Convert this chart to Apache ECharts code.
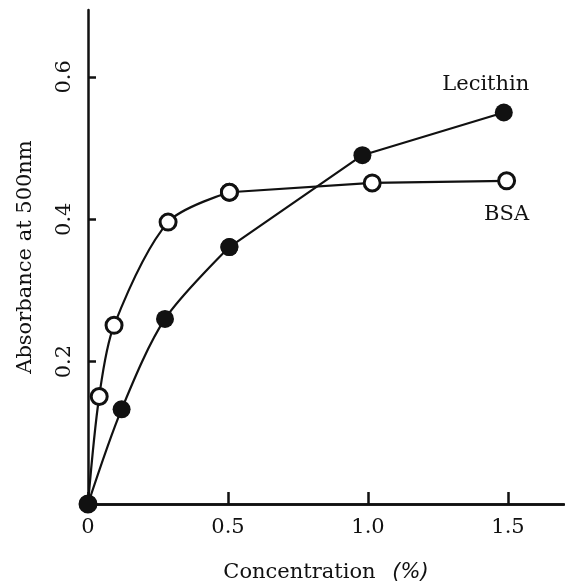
<!DOCTYPE html>
<html>
<head>
<meta charset="utf-8">
<script src="https://cdn.jsdelivr.net/npm/echarts@6/dist/echarts.min.js"></script>
<style>
  html, body { margin: 0; padding: 0; background: #fff; }
  #chart-1 { width: 565px; height: 588px; }
</style>
</head>
<body>
<div id="chart-1"></div>
<script>
/**Data**/
var lecithinX = [0, 0.12, 0.275, 0.505, 0.98, 1.485];
var lecithinY = [0, 0.133, 0.26, 0.361, 0.49, 0.55];
var bsaX = [0, 0.04, 0.093, 0.286, 0.505, 1.015, 1.495];
var bsaY = [0, 0.151, 0.251, 0.396, 0.438, 0.451, 0.454];
var xTicks = ["0", "0.5", "1.0", "1.5"];
var yTicks = ["0.2", "0.4", "0.6"];

var FONT = "DejaVu Serif";

// builds [x, y] items; the last point of the full series gets the name label
function pairs(xs, ys, from, to, labelOpt) {
  var out = [];
  for (var i = from; i < to; i++) {
    var item = { value: [xs[i], ys[i]] };
    if (labelOpt && i === xs.length - 1) item.label = labelOpt;
    out.push(item);
  }
  return out;
}

var bsaLabel = {
  show: true,
  position: "bottom",
  distance: 14,
  formatter: "BSA",
  fontFamily: FONT,
  fontSize: 21,
  color: "#111",
};
var lecithinLabel = {
  show: true,
  position: "top",
  distance: 8,
  offset: [-18, 0],
  formatter: "Lecithin",
  fontFamily: FONT,
  fontSize: 21,
  color: "#111",
};

var openStyle = { color: "#fff", borderColor: "#111", borderWidth: 3 };
var filledStyle = { color: "#111", borderColor: "#111", borderWidth: 0 };
var lineSt = { color: "#111", width: 2.2 };

/**Chart 1**/
var dom = document.getElementById("chart-1");
var Chart1 = echarts.init(dom, null, {
  renderer: "canvas",
  useDirtyRect: false,
});

var option;

option = {
  backgroundColor: "#fff",
  animation: false,
  grid: {
    left: 88,
    right: 1,
    top: 10,
    bottom: 81,
  },
  xAxis: [
    {
      type: "value",
      min: 0,
      max: 1.7,
      interval: 0.5,
      name: "{a|Concentration}     {b|(%)}",
      nameLocation: "middle",
      nameGap: 58,
      nameTextStyle: {
        rich: {
          a: { fontFamily: FONT, fontSize: 21, color: "#111" },
          b: { fontFamily: "DejaVu Sans", fontStyle: "italic", fontSize: 21, color: "#111" },
        },
      },
      axisLine: { show: true, onZero: false, lineStyle: { color: "#111", width: 2.5 } },
      axisTick: { show: true, inside: true, length: 12, lineStyle: { color: "#111", width: 2.5 } },
      splitLine: { show: false },
      axisLabel: {
        margin: 13,
        fontFamily: FONT,
        fontSize: 21,
        color: "#111",
        showMaxLabel: false,
        formatter: function (v) {
          var i = Math.round(v / 0.5);
          return xTicks[i] || "";
        },
      },
    },
    {
      type: "value",
      position: "top",
      min: 0,
      max: 1.7,
      axisLine: { show: true, lineStyle: { color: "#111", width: 2.5 } },
      axisTick: { show: false },
      axisLabel: { show: false },
      splitLine: { show: false },
    },
  ],
  yAxis: {
    type: "value",
    min: 0,
    max: 0.694,
    interval: 0.2,
    name: "Absorbance at 500nm",
    nameLocation: "middle",
    nameGap: 52,
    nameTextStyle: { fontFamily: FONT, fontSize: 21, color: "#111" },
    axisLine: { show: true, onZero: false, lineStyle: { color: "#111", width: 2.5 } },
    axisTick: { show: true, inside: true, length: 8, lineStyle: { color: "#111", width: 2.5 } },
    splitLine: { show: false },
    axisLabel: {
      rotate: 90,
      margin: 13,
      fontFamily: FONT,
      fontSize: 21,
      color: "#111",
      showMinLabel: false,
      showMaxLabel: false,
      formatter: function (v) {
        var i = Math.round(v / 0.2) - 1;
        return yTicks[i] || "";
      },
    },
  },
  series: [
    {
      name: "BSA",
      type: "line",
      smooth: 0.3,
      symbol: "circle",
      symbolSize: 16,
      lineStyle: lineSt,
      itemStyle: openStyle,
      data: pairs(bsaX, bsaY, 0, 5),
      z: 2,
    },
    {
      name: "BSA",
      type: "line",
      smooth: false,
      symbol: "circle",
      symbolSize: 16,
      lineStyle: lineSt,
      itemStyle: openStyle,
      data: pairs(bsaX, bsaY, 4, bsaX.length, bsaLabel),
      z: 2,
    },
    {
      name: "Lecithin",
      type: "line",
      smooth: 0.3,
      symbol: "circle",
      symbolSize: 18,
      lineStyle: lineSt,
      itemStyle: filledStyle,
      data: pairs(lecithinX, lecithinY, 0, 4),
      z: 3,
    },
    {
      name: "Lecithin",
      type: "line",
      smooth: false,
      symbol: "circle",
      symbolSize: 18,
      lineStyle: lineSt,
      itemStyle: filledStyle,
      data: pairs(lecithinX, lecithinY, 3, lecithinX.length, lecithinLabel),
      z: 3,
    },
  ],
};

if (option && typeof option === "object") {
  Chart1.setOption(option);
}

window.addEventListener("resize", Chart1.resize);
/**End Chart 1**/
</script>
</body>
</html>
